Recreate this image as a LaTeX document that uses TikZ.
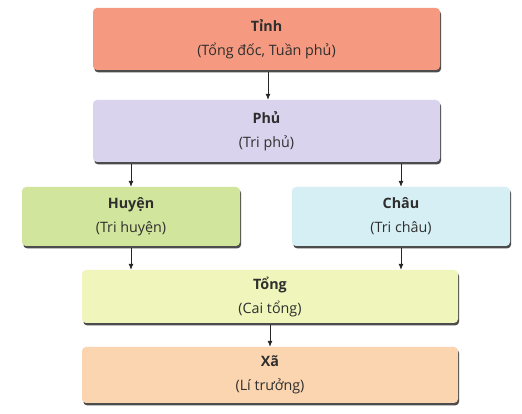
\documentclass[tikz,border=0pt]{standalone}
\usepackage{fontspec}
\setmainfont{Open Sans}
\usepackage{xcolor}
\usepackage{tikz}
\usetikzlibrary{arrows.meta,shadows}

\definecolor{tinhcol}{HTML}{F59A80}
\definecolor{phucol}{HTML}{DAD3EE}
\definecolor{huyencol}{HTML}{D2E59C}
\definecolor{chaucol}{HTML}{D6EFF4}
\definecolor{tongcol}{HTML}{EFF5BB}
\definecolor{xacol}{HTML}{FBD5B0}
\definecolor{txtcol}{HTML}{2E2E2E}

\tikzset{
	box/.style={rounded corners=4pt, align=center, inner sep=0pt, text=txtcol, font=\fontsize{14.3}{24}\selectfont,
		drop shadow={shadow xshift=1.2pt, shadow yshift=-2.4pt, fill=black!70, opacity=1}},
	arr/.style={-{Latex[length=6pt,width=5pt]}, thick, black!85}
}

\begin{document}
\begin{tikzpicture}[x=1pt,y=1pt]
	\useasboundingbox[fill=white] (0,0) rectangle (522,414);
	
	\node[box,fill=tinhcol,minimum width=347,minimum height=62] (tinh) at (266.5,375) {\textbf{Tỉnh}\\(Tổng đốc, Tuần phủ)};
	\node[box,fill=phucol,minimum width=347,minimum height=62] (phu) at (266.5,283) {\textbf{Phủ}\\(Tri phủ)};
	\node[box,fill=huyencol,minimum width=218,minimum height=59] (huyen) at (131,197.5) {\textbf{Huyện}\\(Tri huyện)};
	\node[box,fill=chaucol,minimum width=218,minimum height=59] (chau) at (401,197.5) {\textbf{Châu}\\(Tri châu)};
	\node[box,fill=tongcol,minimum width=376,minimum height=53] (tong) at (270,117.5) {\textbf{Tổng}\\(Cai tổng)};
	\node[box,fill=xacol,minimum width=376,minimum height=56] (xa) at (270,39) {\textbf{Xã}\\(Lí trưởng)};
	
	\draw[arr] (tinh.south -| 268,0) ++(0,-2) -- (phu.north -| 268,0);
	\draw[arr] (phu.south -| huyen.north) ++(0,-2) -- (huyen.north);
	\draw[arr] (phu.south -| chau.north) ++(0,-2) -- (chau.north);
	\draw[arr] (huyen.south) ++(0,-2) -- (tong.north -| huyen.south);
	\draw[arr] (chau.south) ++(0,-2) -- (tong.north -| chau.south);
	\draw[arr] (tong.south) ++(0,-2) -- (xa.north);
\end{tikzpicture}
\end{document}
